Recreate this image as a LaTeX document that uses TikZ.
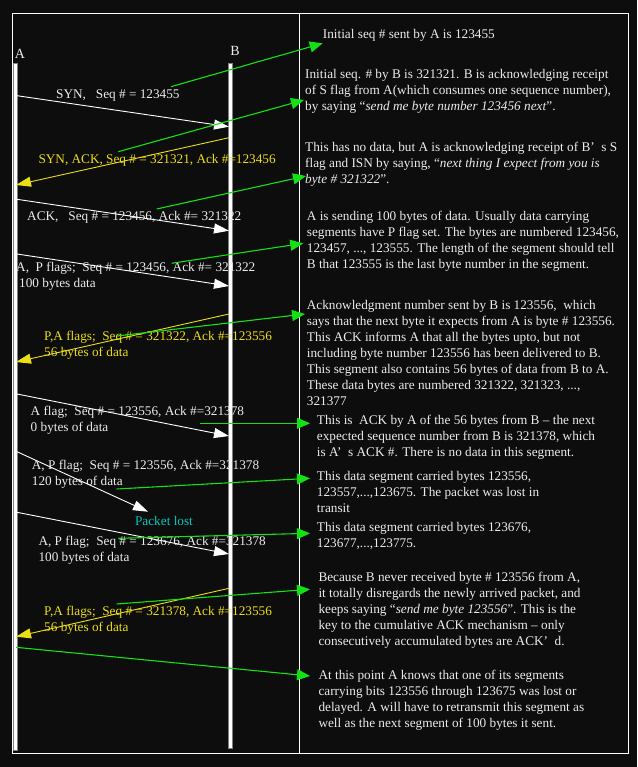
\documentclass[tikz,border=0pt]{standalone}
\usepackage{fontspec}
\setmainfont{Liberation Serif}
\usetikzlibrary{arrows.meta,positioning}
\definecolor{bgdark}{RGB}{13,13,13}
\definecolor{ylw}{RGB}{235,222,20}
\definecolor{grn}{RGB}{20,225,20}
\definecolor{cyn}{RGB}{0,200,190}
\definecolor{txt}{RGB}{236,236,236}

\begin{document}
\begin{tikzpicture}[x=1pt,y=-1pt,
  font=\fontsize{13.25}{16}\selectfont,
  lbl/.style={anchor=north west, inner sep=0pt, align=left, text=txt},
  ylbl/.style={lbl, text=ylw},
  note/.style={anchor=north west, inner sep=0pt, align=left, text=txt},
  life/.style={draw=gray, fill=white, line width=0.6pt},
  msg/.style={white, line width=0.9pt, -{Triangle[length=15pt,width=10pt]}},
  rep/.style={ylw, line width=0.9pt, -{Triangle[length=15pt,width=10pt]}},
  ptr/.style={grn, line width=1.1pt, -{Triangle[length=13pt,width=11pt]}}]
\fill[bgdark] (0,0) rectangle (637,767);
\useasboundingbox (0,0) rectangle (637,767);
% frame and divider
\draw[white, line width=0.8pt] (12,13) rectangle (628.5,753);
\draw[white, line width=0.8pt] (299.5,13) -- (299.5,753);
% lifelines
\node[text=txt, font=\fontsize{14}{16}\selectfont] (A) at (20,54) {A};
\node[text=txt, font=\fontsize{14}{16}\selectfont] (B) at (235,51) {B};
\draw[life] (13.3,63) rectangle (17.3,750);
\draw[life] (228.7,63) rectangle (232.5,748);
% segment labels
\node[lbl] (l1) at (56,89.5) {SYN,\ \ \ Seq \# = 123455};
\node[ylbl] (l2) at (38.3,154.5) {SYN, ACK, Seq \# = 321321, Ack \#=123456};
\node[lbl] (l3) at (27,211) {ACK,\ \ \ Seq \# = 123456, Ack \#= 321322};
\node[lbl] (l4) at (16,262) {A,\ \ P flags;\ \ Seq \# = 123456, Ack \#= 321322\\\hspace{3pt}100 bytes data};
\node[ylbl] (l5) at (44,331) {P,A flags;\ \ Seq \# = 321322, Ack \#=123556\\56 bytes of data};
\node[lbl] (l6) at (30.5,406) {A flag;\ \ Seq \# = 123556, Ack \#=321378\\0 bytes of data};
\node[lbl] (l7) at (31.7,459.5) {A, P flag;\ \ Seq \# = 123556, Ack \#=321378\\120 bytes of data};
\node[text=cyn, inner sep=0pt] (lostlbl) at (164,521) {Packet lost};
\node[lbl] (l8) at (38.3,536) {A, P flag;\ \ Seq \# = 123676, Ack \#=321378\\100 bytes of data};
\node[ylbl] (l9) at (44,606) {P,A flags;\ \ Seq \# = 321378, Ack \#=123556\\56 bytes of data};
% segment end points
\coordinate (a1) at (17,95.7);   \coordinate (b1) at (229,126.7);
\coordinate (b2) at (229,137.7); \coordinate (a2) at (16,185);
\coordinate (a3) at (17,199.3);  \coordinate (b3) at (229,230.7);
\coordinate (a4) at (17,254);    \coordinate (b4) at (229,286);
\coordinate (b5) at (229,314);   \coordinate (a5) at (16,362);
\coordinate (a6) at (17,394);    \coordinate (b6) at (229,436);
\coordinate (a7) at (17,451.7);  \coordinate (lost) at (148,511.7);
\coordinate (a8) at (17,512.3);  \coordinate (b8) at (229,554);
\coordinate (b9) at (229,588.3); \coordinate (a9) at (16,636.7);
% segments
\draw[msg] (a1) -- (b1);
\draw[rep] (b2) -- (a2);
\draw[msg] (a3) -- (b3);
\draw[msg] (a4) -- (b4);
\draw[rep] (b5) -- (a5);
\draw[msg] (a6) -- (b6);
\draw[msg] (a7) -- (lost);
\draw[msg] (a8) -- (b8);
\draw[rep] (b9) -- (a9);
% notes
\node[note] (n1) at (322.7,29.5) {Initial seq \# sent by A is 123455};
\node[note] (n2) at (305,69.5) {Initial seq. \# by B is 321321. B is acknowledging receipt\\of S flag from A(which consumes one sequence number),\\by saying ``\textit{send me byte number 123456 next}''.};
\node[note] (n3) at (305,141.5) {This has no data, but A is acknowledging receipt of B'\ \ s S\\flag and ISN by saying, ``\textit{next thing I expect from you is}\\\textit{byte \# 321322}''.};
\node[note] (n4) at (306.7,211) {A is sending 100 bytes of data. Usually data carrying\\segments have P flag set. The bytes are numbered 123456,\\123457, ..., 123555. The length of the segment should tell\\B that 123555 is the last byte number in the segment.};
\node[note] (n5) at (306.7,300.5) {Acknowledgment number sent by B is 123556,\ \ which\\says that the next byte it expects from A is byte \# 123556.\\This ACK informs A that all the bytes upto, but not\\including byte number 123556 has been delivered to B.\\This segment also contains 56 bytes of data from B to A.\\These data bytes are numbered 321322, 321323, ...,\\321377};
\node[note] (n6) at (316.7,414.5) {This is\ \ ACK by A of the 56 bytes from B -- the next\\expected sequence number from B is 321378, which\\is A'\ \ s ACK \#. There is no data in this segment.};
\node[note] (n7) at (316.7,471.5) {This data segment carried bytes 123556,\\123557,...,123675. The packet was lost in\\transit};
\node[note] (n8) at (316.7,522) {This data segment carried bytes 123676,\\123677,...,123775.};
\node[note] (n9) at (318.3,571.5) {Because B never received byte \# 123556 from A,\\it totally disregards the newly arrived packet, and\\keeps saying ``\textit{send me byte 123556}''. This is the\\key to the cumulative ACK mechanism -- only\\consecutively accumulated bytes are ACK'\ \ d.};
\node[note] (n10) at (318.3,669.5) {At this point A knows that one of its segments\\carrying bits 123556 through 123675 was lost or\\delayed. A will have to retransmit this segment as\\well as the next segment of 100 bytes it sent.};
% pointer ends
\coordinate (p1) at (171,86.7);   \coordinate (q1) at (322.7,43.3);
\coordinate (p2) at (118.3,151.7); \coordinate (q2) at (304,100);
\coordinate (p3) at (156.7,209);  \coordinate (q3) at (306,176);
\coordinate (p4) at (171.7,263.3); \coordinate (q4) at (303.3,243.3);
\coordinate (p5) at (117,336);    \coordinate (q5) at (305,314);
\coordinate (p6) at (200,423.3);  \coordinate (q6) at (310,423.3);
\coordinate (p7) at (116.7,489);  \coordinate (q7) at (310,478.3);
\coordinate (p8) at (118.3,538.3); \coordinate (q8) at (310,533.3);
\coordinate (p9) at (116.7,604);  \coordinate (q9) at (310,589.3);
\coordinate (p10) at (16,647.3);  \coordinate (q10) at (310,676);
% pointers
\draw[ptr] (p1) -- (q1);
\draw[ptr] (p2) -- (q2);
\draw[ptr] (p3) -- (q3);
\draw[ptr] (p4) -- (q4);
\draw[ptr] (p5) -- (q5);
\draw[ptr] (p6) -- (q6);
\draw[ptr] (p7) -- (q7);
\draw[ptr] (p8) -- (q8);
\draw[ptr] (p9) -- (q9);
\draw[ptr] (p10) -- (q10);
\end{tikzpicture}
\end{document}
